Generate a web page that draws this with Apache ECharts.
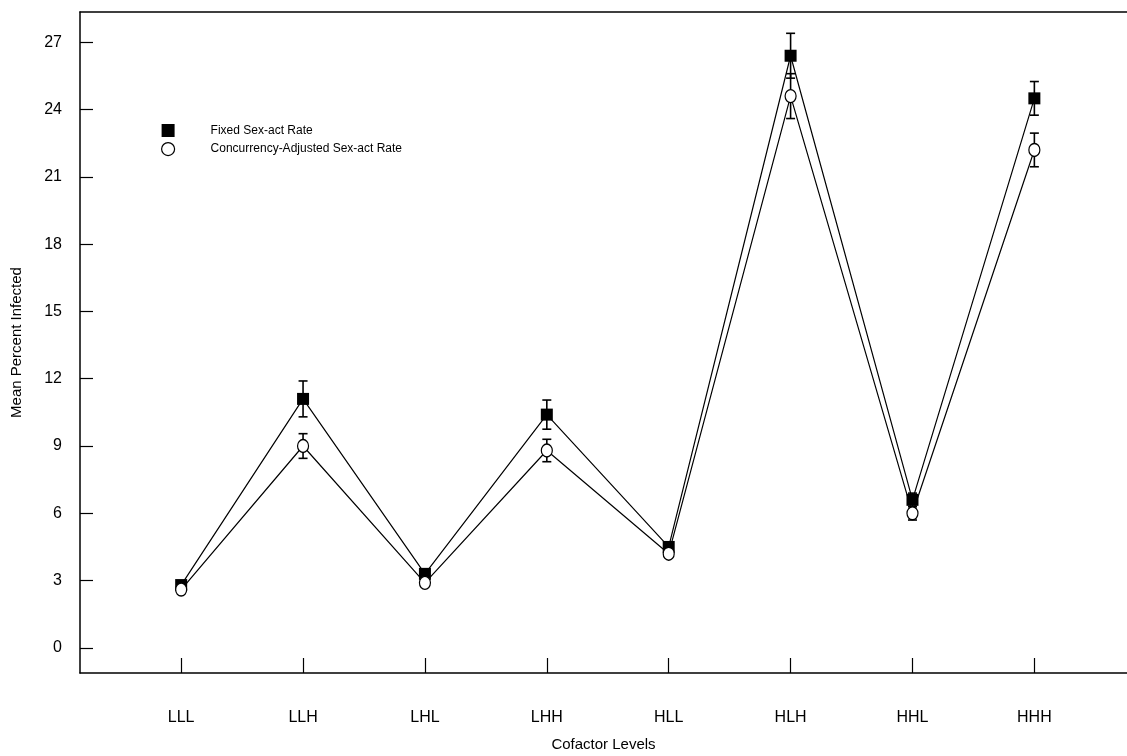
<!DOCTYPE html>
<html>
<head>
<meta charset="utf-8">
<script src="https://cdn.jsdelivr.net/npm/echarts@6/dist/echarts.min.js"></script>
<style>html,body{margin:0;padding:0;background:#fff;}#c{width:1127px;height:756px;}</style>
</head>
<body>
<div id="c"></div>
<script>
const categories = ['LLL','LLH','LHL','LHH','HLL','HLH','HHL','HHH'];
const fixedMean = [2.8, 11.1, 3.3, 10.4, 4.5, 26.4, 6.6, 24.5];
const fixedErr  = [0.15, 0.8, 0.15, 0.65, 0.2, 1.0, 0.3, 0.75];
const adjMean   = [2.6, 9.0, 2.9, 8.8, 4.2, 24.6, 6.0, 22.2];
const adjErr    = [0.1, 0.55, 0.15, 0.5, 0.15, 1.0, 0.3, 0.75];
const yTicks = [0,3,6,9,12,15,18,21,24,27];
const seriesNames = ['Fixed Sex-act Rate','Concurrency-Adjusted Sex-act Rate'];

const xPos = categories.map((c,i)=>i+1);
const fixedData = fixedMean.map((v,i)=>[xPos[i], v]);
const adjData = adjMean.map((v,i)=>[xPos[i], v]);
const fixedBars = fixedMean.map((v,i)=>[xPos[i], v-fixedErr[i], v+fixedErr[i]]);
const adjBars = adjMean.map((v,i)=>[xPos[i], v-adjErr[i], v+adjErr[i]]);

function errRender(params, api){
  const x = api.value(0);
  const lo = api.coord([x, api.value(1)]);
  const hi = api.coord([x, api.value(2)]);
  const w = 4.5;
  const st = {stroke:'#000', lineWidth:1.6};
  return {type:'group', children:[
    {type:'line', shape:{x1:lo[0],y1:lo[1],x2:hi[0],y2:hi[1]}, style:st},
    {type:'line', shape:{x1:lo[0]-w,y1:lo[1],x2:lo[0]+w,y2:lo[1]}, style:st},
    {type:'line', shape:{x1:hi[0]-w,y1:hi[1],x2:hi[0]+w,y2:hi[1]}, style:st}
  ]};
}

const font = '"Liberation Sans", Arial, sans-serif';
const chart = echarts.init(document.getElementById('c'));
chart.setOption({
  animation:false,
  backgroundColor:'#fff',
  grid:{left:80, top:12, right:0, bottom:83, containLabel:false, outerBoundsMode:'none'},
  legend:{
    orient:'vertical', left:156, top:119, itemWidth:13, itemHeight:13, itemGap:5,
    textStyle:{fontFamily:font, fontSize:12, color:'#000', padding:[0,0,0,31]},
    data:[
      {name:seriesNames[0], icon:'rect', itemStyle:{color:'#000', borderWidth:0}},
      {name:seriesNames[1], icon:'circle', itemStyle:{color:'#fff', borderColor:'#000', borderWidth:1.2}}
    ]
  },
  xAxis:[{
    type:'value', min:0.17, max:8.76,
    axisLine:{show:true, onZero:false, lineStyle:{color:'#000', width:1.5}},
    axisTick:{show:true, inside:true, length:15, customValues:xPos, lineStyle:{color:'#000', width:1.2}},
    axisLabel:{customValues:xPos, formatter:v=>categories[Math.round(v)-1]||'', margin:37,
      fontFamily:font, fontSize:16, color:'#000'},
    splitLine:{show:false},
    name:'Cofactor Levels', nameLocation:'middle', nameGap:64,
    nameTextStyle:{fontFamily:font, fontSize:15, color:'#000'}
  },{
    type:'value', position:'top', min:0.17, max:8.76,
    axisLine:{show:true, onZero:false, lineStyle:{color:'#000', width:1.5}},
    axisTick:{show:false}, axisLabel:{show:false}, splitLine:{show:false}
  }],
  yAxis:{
    type:'value', min:-1.12, max:28.35,
    axisLine:{show:true, onZero:false, lineStyle:{color:'#000', width:1.5}},
    axisTick:{show:true, inside:true, length:13, customValues:yTicks, lineStyle:{color:'#000', width:1.2}},
    axisLabel:{customValues:yTicks, margin:18, fontFamily:font, fontSize:16, color:'#000'},
    splitLine:{show:false},
    name:'Mean Percent Infected', nameLocation:'middle', nameGap:56,
    nameTextStyle:{fontFamily:font, fontSize:15, color:'#000'}
  },
  series:[
    {type:'custom', name:'fe', renderItem:errRender, data:fixedBars, encode:{x:0,y:[1,2]}, z:2, silent:true},
    {type:'custom', name:'ae', renderItem:errRender, data:adjBars, encode:{x:0,y:[1,2]}, z:2, silent:true},
    {type:'line', name:seriesNames[0], data:fixedData, symbol:'rect', symbolSize:12,
      lineStyle:{color:'#000', width:1.2}, itemStyle:{color:'#000', borderWidth:0}, z:3},
    {type:'line', name:seriesNames[1], data:adjData, symbol:'circle', symbolSize:[11,13],
      lineStyle:{color:'#000', width:1.2}, itemStyle:{color:'#fff', borderColor:'#000', borderWidth:1.3}, z:4}
  ]
});
</script>
</body>
</html>
